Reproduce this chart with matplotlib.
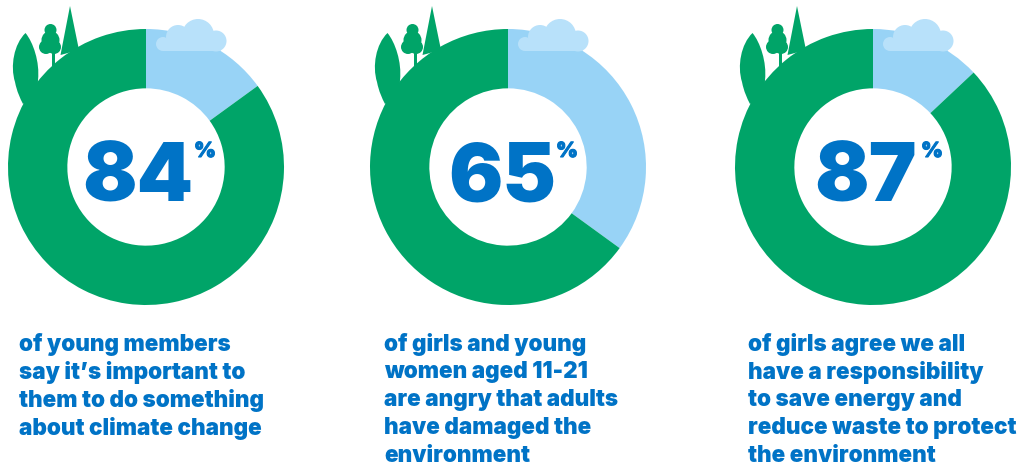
import matplotlib
matplotlib.use("Agg")
import matplotlib.pyplot as plt
from matplotlib.patches import Circle, Polygon, PathPatch
from matplotlib.path import Path
from matplotlib.transforms import Affine2D
import matplotlib.patheffects as pe

W, H = 1021, 472
values = [84, 65, 87]
drawn_share = [85, 65, 87]
captions = [
    ["of young members", "say it\u2019s important to", "them to do something", "about climate change"],
    ["of girls and young", "women aged 11-21", "are angry that adults", "have damaged the", "environment"],
    ["of girls agree we all", "have a responsibility", "to save energy and", "reduce waste to protect", "the environment"],
]
GREEN, LIGHT, CLOUD, BLUE = "#00a468", "#98d3f6", "#b8e1fa", "#0073c6"
centers = [146, 508, 873]
number_shift = [-8, -6, -7]
text_x = [19, 384, 748]
CY, R = 167, 138
FONT = "Inter"

fig = plt.figure(figsize=(W / 100, H / 100), dpi=100, facecolor="white")
for cx, share in zip(centers, drawn_share):
    ax = fig.add_axes([(cx - R) / W, 1 - (CY + R) / H, 2 * R / W, 2 * R / H])
    ax.pie([100 - share, share], colors=[LIGHT, GREEN], startangle=90, counterclock=False,
           radius=1, wedgeprops=dict(width=0.43, linewidth=0))
    ax.set_xlim(-1, 1); ax.set_ylim(-1, 1); ax.axis("off")

ov = fig.add_axes([0, 0, 1, 1], facecolor="none")
ov.set_xlim(0, W); ov.set_ylim(H, 0); ov.axis("off")

LEAF = Path([(25.5, 33), (14, 44), (10, 66), (15, 82), (17, 92), (20, 98), (23, 104),
             (30, 100), (38, 90), (38, 80), (40, 62), (33, 42), (25.5, 33)],
            [1] + [4] * 12)

def deco(dx):
    ov.add_patch(PathPatch(LEAF.transformed(Affine2D().translate(dx, 0)), fc=GREEN, lw=0))
    ov.add_patch(Polygon([(70 + dx, 6), (60.5 + dx, 55), (79 + dx, 50)], fc=GREEN, lw=0))
    for x, y, r in [(50.5, 30, 6), (50.5, 40, 9), (46, 47, 7), (54, 47, 7)]:
        ov.add_patch(Circle((x + dx, y), r, fc=GREEN, lw=0))
    ov.add_patch(Polygon([(52 + dx, 50), (55 + dx, 50), (55 + dx, 70), (52 + dx, 70)], fc=GREEN, lw=0))
    for x, y, r in [(198, 35, 16), (178, 37, 12), (216, 41, 10.5), (163, 44, 7)]:
        ov.add_patch(Circle((x + dx, y), r, fc=CLOUD, lw=0))
    ov.add_patch(Polygon([(163 + dx, 40), (216 + dx, 40), (221 + dx, 51), (163 + dx, 51)], fc=CLOUD, lw=0))

for cx in centers:
    deco(cx - centers[0])

for cx, tx, v, lines, sh in zip(centers, text_x, values, captions, number_shift):
    ov.text(cx + sh, 201, str(v), fontsize=58, family=FONT, weight="black", color=BLUE,
            ha="center", va="baseline")
    ov.text(cx + 59, 151, "%", fontsize=15, family=FONT, weight="black", color=BLUE,
            ha="center", va="center", path_effects=[pe.withStroke(linewidth=0.8, foreground=BLUE)])
    for i, line in enumerate(lines):
        ov.text(tx, 344 + 28 * i, line, fontsize=16.2, family=FONT, weight="black", color=BLUE,
                ha="left", va="center")

fig.savefig("out.png", dpi=100, facecolor="white")
